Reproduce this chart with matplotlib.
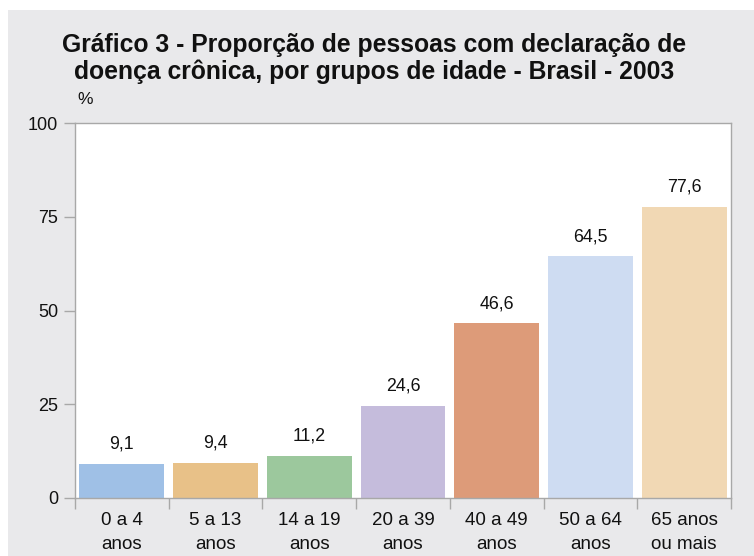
import matplotlib
matplotlib.use("Agg")
import matplotlib.pyplot as plt
from matplotlib.patches import Rectangle
from matplotlib.ticker import FixedLocator, NullFormatter

categories = ["0 a 4\nanos", "5 a 13\nanos", "14 a 19\nanos", "20 a 39\nanos",
              "40 a 49\nanos", "50 a 64\nanos", "65 anos\nou mais"]
values = [9.1, 9.4, 11.2, 24.6, 46.6, 64.5, 77.6]
value_labels = ["9,1", "9,4", "11,2", "24,6", "46,6", "64,5", "77,6"]
colors = ["#9fc0e6", "#e8c188", "#9cc89d", "#c5bcdc", "#dd9b79", "#cedcf2", "#f1d8b4"]
yticks = [0, 25, 50, 75, 100]

BG = "#e9e9eb"
SPINE = "#a8a8a8"
FONT = ["Liberation Sans", "DejaVu Sans"]
TFONT = ["Liberation Sans Narrow", "Liberation Sans", "DejaVu Sans"]

fig = plt.figure(figsize=(7.54, 5.56), dpi=100, facecolor="white")
fig.patches.append(Rectangle((8/754, 0), 1, (556-10)/556, transform=fig.transFigure,
                             facecolor=BG, edgecolor="none", zorder=-10))

ax = fig.add_axes([75/754, 58/556, (731-75)/754, (433-58)/556])
ax.set_facecolor("white")
x = list(range(len(values)))
ax.bar(x, values, width=0.905, color=colors, zorder=2)
for xi, v, lab in zip(x, values, value_labels):
    ax.annotate(lab, (xi, v), xytext=(0, 8), textcoords="offset points",
                ha="center", va="bottom", fontsize=12.8, family=FONT, color="#111111")

ax.set_xlim(-0.5, len(values) - 0.5)
ax.set_ylim(0, 100)
ax.set_yticks(yticks)
ax.set_yticklabels([str(t) for t in yticks], family=FONT, fontsize=13)
ax.set_xticks(x)
ax.set_xticklabels(categories, family=FONT, fontsize=13.5, linespacing=1.55)
ax.xaxis.set_minor_locator(FixedLocator([i - 0.5 for i in range(len(values) + 1)]))
ax.xaxis.set_minor_formatter(NullFormatter())
ax.tick_params(axis="x", which="major", length=0, pad=10, colors="#111111")
ax.tick_params(axis="x", which="minor", length=8, width=1, color=SPINE)
ax.tick_params(axis="y", length=8, width=1, color=SPINE, pad=4, labelcolor="#111111")
for s in ax.spines.values():
    s.set_color(SPINE)
    s.set_linewidth(1)

fig.text(85/754, 1 - 100/556, "%", family=FONT, fontsize=12.5, ha="center", va="center", color="#111111")
fig.text(374/754, 1 - 45/556, "Gráfico 3 - Proporção de pessoas com declaração de",
         family=TFONT, fontweight="bold", fontsize=17.8, ha="center", va="center", color="#111111")
fig.text(374/754, 1 - 72/556, "doença crônica, por grupos de idade - Brasil - 2003",
         family=TFONT, fontweight="bold", fontsize=17.8, ha="center", va="center", color="#111111")

fig.savefig("out.png", dpi=100, facecolor="white")
